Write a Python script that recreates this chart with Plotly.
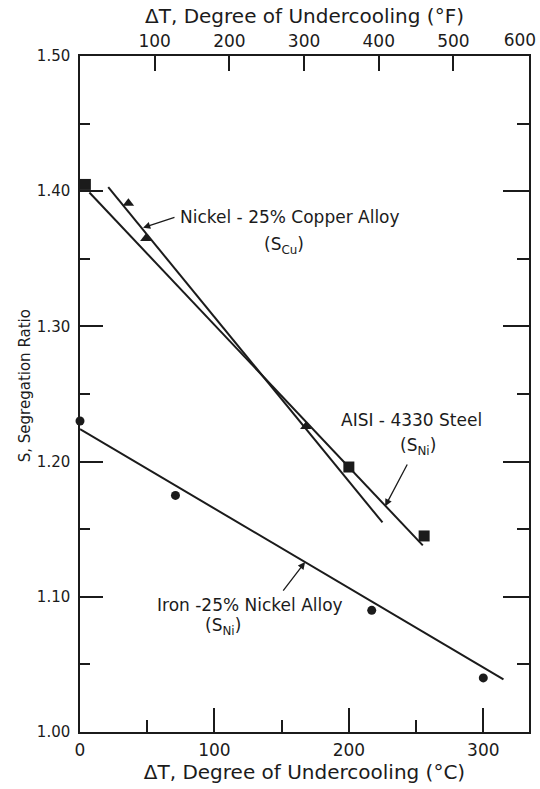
import plotly.graph_objects as go

# --- Segregation ratio vs. degree of undercooling -------------------------
# Nickel - 25% Copper alloy (S_Cu): measured points and fitted line
cu_temp = [36, 49, 168]
cu_ratio = [1.391, 1.365, 1.226]
cu_fit_temp = [21, 225]
cu_fit_ratio = [1.403, 1.155]

# AISI-4330 steel (S_Ni): measured points and fitted line
steel_temp = [4, 200, 256]
steel_ratio = [1.405, 1.196, 1.145]
steel_fit_temp = [7, 255]
steel_fit_ratio = [1.399, 1.138]

# Iron - 25% Nickel alloy (S_Ni): measured points and fitted line
fe_temp = [0, 71, 217, 300]
fe_ratio = [1.230, 1.175, 1.090, 1.040]
fe_fit_temp = [0, 315]
fe_fit_ratio = [1.224, 1.039]

# axis ticks
c_major = [0, 100, 200, 300]
c_minor = [50, 150, 250]
f_major = [100, 200, 300, 400, 500, 600]
s_major = [1.00, 1.10, 1.20, 1.30, 1.40, 1.50]
s_minor = [1.05, 1.15, 1.25, 1.35, 1.45]
s_labels = ["1.00", "1.10", "1.20", "1.30", "1.40", "1.50"]

X_MAX_C = 334.0
X_MAX_F = X_MAX_C * 1.8

INK = "#1b1b1b"
FONT = "DejaVu Sans"

fig = go.Figure()

for fx, fy in [(cu_fit_temp, cu_fit_ratio), (steel_fit_temp, steel_fit_ratio),
               (fe_fit_temp, fe_fit_ratio)]:
    fig.add_trace(go.Scatter(x=fx, y=fy, mode="lines",
                             line=dict(color=INK, width=2),
                             showlegend=False, hoverinfo="skip"))

fig.add_trace(go.Scatter(x=cu_temp, y=cu_ratio, mode="markers",
                         marker=dict(symbol="triangle-up", size=10, color=INK),
                         cliponaxis=False, showlegend=False))
fig.add_trace(go.Scatter(x=steel_temp, y=steel_ratio, mode="markers",
                         marker=dict(symbol="square", size=11, color=INK),
                         cliponaxis=False, showlegend=False))
fig.add_trace(go.Scatter(x=fe_temp, y=fe_ratio, mode="markers",
                         marker=dict(symbol="circle", size=9, color=INK),
                         cliponaxis=False, showlegend=False))

# placeholder traces so the top (°F), corner-label and right axes are drawn
fig.add_trace(go.Scatter(x=[None], y=[None], xaxis="x2", yaxis="y2",
                         showlegend=False, hoverinfo="skip"))
fig.add_trace(go.Scatter(x=[None], y=[None], xaxis="x3", yaxis="y",
                         showlegend=False, hoverinfo="skip"))

label_font = dict(family=FONT, size=17, color=INK)

annotations = [
    dict(x=72.9, y=1.381, text="Nickel - 25% Copper Alloy", xanchor="left"),
    dict(x=152.0, y=1.360, text="(S<sub>Cu</sub>)", xanchor="center"),
    dict(x=192.7, y=1.231, text="AISI - 4330 Steel", xanchor="left"),
    dict(x=251.5, y=1.211, text="(S<sub>Ni</sub>)", xanchor="center"),
    dict(x=55.8, y=1.094, text="Iron -25% Nickel Alloy", xanchor="left"),
    dict(x=106.4, y=1.078, text="(S<sub>Ni</sub>)", xanchor="center"),
]
for a in annotations:
    a.update(xref="x", yref="y", showarrow=False, yanchor="middle",
             font=label_font)

# vertical axis title, set close to the tick labels
annotations.append(dict(
    x=-0.1225, y=0.513, xref="paper", yref="paper", showarrow=False,
    text="S, Segregation Ratio", textangle=-90,
    xanchor="center", yanchor="middle",
    font=dict(family=FONT, size=15, color=INK)))

# leader arrows from the labels to their lines
leaders = [
    ((71.4, 1.381), (46.9, 1.373)),
    ((244.0, 1.199), (227.0, 1.167)),
    ((150.3, 1.1035), (167.4, 1.1257)),
]
for (tx, ty), (hx, hy) in leaders:
    annotations.append(dict(x=hx, y=hy, ax=tx, ay=ty, xref="x", yref="y",
                            axref="x", ayref="y", text="", showarrow=True,
                            arrowhead=2, arrowsize=1.1, arrowwidth=1.3,
                            arrowcolor=INK))

tick_font = dict(family=FONT, size=17, color=INK)
title_font = dict(family=FONT, size=20, color=INK)

# the °F labels up to 500 are centred on their ticks; the 600 label at the
# frame corner is drawn on its own axis, set to the left of its tick
f_inner = f_major[:-1]
f_corner = f_major[-1:]

fig.update_layout(
    width=540, height=789,
    margin=dict(l=80, r=11, t=56, b=57, autoexpand=False),
    paper_bgcolor="white", plot_bgcolor="white",
    annotations=annotations,
    xaxis=dict(
        range=[0, X_MAX_C], tickmode="array", tickvals=c_major,
        ticktext=[str(v) for v in c_major], automargin=False,
        ticks="inside", ticklen=24, tickwidth=1.5, tickcolor=INK,
        minor=dict(tickvals=c_minor, ticks="inside", ticklen=12,
                   tickwidth=1.5, tickcolor=INK),
        showline=True, linecolor=INK, linewidth=1.5, showgrid=False,
        zeroline=False, tickfont=tick_font, ticklabelstandoff=2,
        title=dict(text="ΔT, Degree of Undercooling (°C)", font=title_font,
                   standoff=4),
    ),
    xaxis2=dict(
        range=[0, X_MAX_F], overlaying="x", side="top", anchor="y",
        tickmode="array", tickvals=f_major, automargin=False,
        ticktext=[str(v) for v in f_inner] + [""],
        ticks="inside", ticklen=15, tickwidth=1.5, tickcolor=INK,
        showline=True, linecolor=INK, linewidth=1.5, showgrid=False,
        zeroline=False, tickfont=tick_font, ticklabelstandoff=0,
        title=dict(text="ΔT, Degree of Undercooling (°F)", font=title_font,
                   standoff=2),
    ),
    xaxis3=dict(
        range=[0, X_MAX_F], overlaying="x", side="top", anchor="y",
        tickmode="array", tickvals=f_corner,
        ticktext=[str(v) for v in f_corner], automargin=False,
        ticklabelposition="outside left", ticklabelshift=8,
        ticks="", showline=False, showgrid=False, zeroline=False,
        tickfont=tick_font, ticklabelstandoff=6,
    ),
    yaxis=dict(
        range=[1.00, 1.50], tickmode="array", tickvals=s_major,
        ticktext=s_labels, automargin=False,
        ticks="inside", ticklen=23, tickwidth=1.5, tickcolor=INK,
        minor=dict(tickvals=s_minor, ticks="inside", ticklen=10,
                   tickwidth=1.5, tickcolor=INK),
        showline=True, linecolor=INK, linewidth=1.5, showgrid=False,
        zeroline=False, tickfont=dict(family=FONT, size=15, color=INK),
        ticklabelstandoff=5,
    ),
    yaxis2=dict(
        range=[1.00, 1.50], overlaying="y", side="right", anchor="x",
        tickmode="array", tickvals=s_major, showticklabels=False,
        automargin=False,
        ticks="inside", ticklen=26, tickwidth=1.5, tickcolor=INK,
        minor=dict(tickvals=s_minor, ticks="inside", ticklen=12,
                   tickwidth=1.5, tickcolor=INK),
        showline=True, linecolor=INK, linewidth=1.5, showgrid=False,
        zeroline=False,
    ),
)

fig.write_html("out.html")
